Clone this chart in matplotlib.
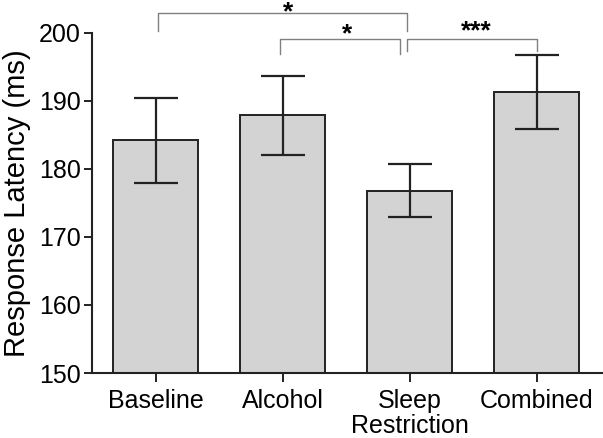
import numpy as np
import matplotlib.pyplot as plt

plt.rcParams['font.family'] = ['Liberation Sans', 'DejaVu Sans']

# data
conditions = ['Baseline', 'Alcohol', 'Sleep\nRestriction', 'Combined']
latency = [184.2, 187.9, 176.8, 191.3]
sem = [6.3, 5.8, 3.9, 5.4]
yticks = [150, 160, 170, 180, 190, 200]

# significance brackets: (left group, right group, label)
comparisons = [(0, 2, '*'), (1, 2, '*'), (2, 3, '***')]

dark = '#222222'
x = np.arange(len(conditions))

fig = plt.figure(figsize=(6.03, 4.38), dpi=100)
ax = fig.add_axes([0.1526, 0.1484, 0.8474, 0.7763])

ax.bar(x, latency, width=0.67, color='#d3d3d3', edgecolor=dark, linewidth=1.4, zorder=2)
ax.errorbar(x, latency, yerr=sem, fmt='none', ecolor=dark, elinewidth=1.6,
            capsize=15.5, capthick=1.6, zorder=3)

ax.set_xlim(-0.5, 3.52)
ax.set_ylim(150, 200)
ax.set_yticks(yticks)
ax.set_xticks(x)
ax.set_xticklabels(conditions, fontsize=18, linespacing=1.05)
ax.tick_params(axis='y', labelsize=18, length=6, width=1.4, color=dark, pad=2)
ax.tick_params(axis='x', length=6.5, width=1.4, color=dark, pad=5)
ax.set_ylabel('Response Latency (ms)', fontsize=21, labelpad=6)

for side in ['top', 'right']:
    ax.spines[side].set_visible(False)
for side in ['left', 'bottom']:
    ax.spines[side].set_linewidth(1.5)
    ax.spines[side].set_color(dark)

# brackets (drawn above the axes)
gray = '#808080'
levels = [(202.9, 200.3), (199.1, 196.9), (199.1, 197.3)]
shifts = [(0.02, -0.02), (-0.02, -0.08), (-0.02, 0.0)]
star_dx = [0.04, 0.06, 0.03]
star_y = [202.0, 198.8, 199.2]
for (a, b, lab), (top, low), (sa, sb), dx, sy in zip(comparisons, levels, shifts, star_dx, star_y):
    xa, xb = x[a] + sa, x[b] + sb
    ax.plot([xa, xa, xb, xb], [low, top, top, low], color=gray, lw=1.0,
            clip_on=False, zorder=4)
    ax.text((xa + xb) / 2 + dx, sy, lab, ha='center', va='baseline', fontsize=19,
            fontweight='bold', color='black', clip_on=False)

fig.savefig('out.png', dpi=100)
